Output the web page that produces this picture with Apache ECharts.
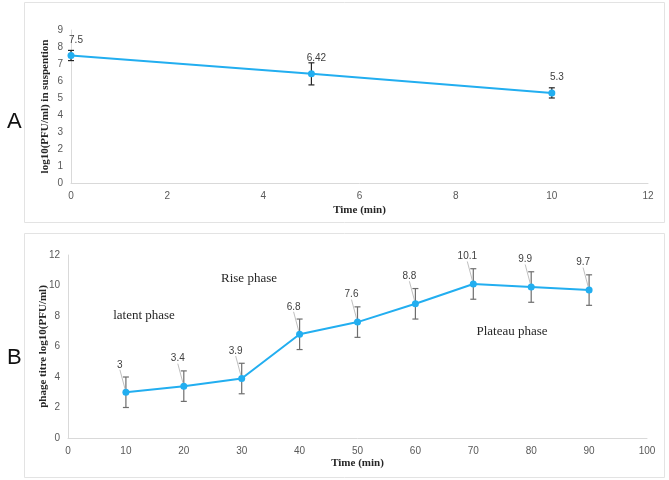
<!DOCTYPE html>
<html>
<head>
<meta charset="utf-8">
<script src="https://cdn.jsdelivr.net/npm/echarts@6/dist/echarts.min.js"></script>
<style>
html,body{margin:0;padding:0;background:#fff;}
#chart{width:669px;height:480px;}
</style>
</head>
<body>
<div id="chart"></div>
<script>
// Panel A data
var timeA = [0, 5, 10];
var titreA = [7.5, 6.42, 5.3];
var errA = [0.3, 0.65, 0.3];
var xTicksA = [0, 2, 4, 6, 8, 10, 12];
var yTicksA = [0, 1, 2, 3, 4, 5, 6, 7, 8, 9];

// Panel B data
var timeB = [10, 20, 30, 40, 50, 60, 70, 80, 90];
var titreB = [3, 3.4, 3.9, 6.8, 7.6, 8.8, 10.1, 9.9, 9.7];
var errB = [1, 1, 1, 1, 1, 1, 1, 1, 1];
var xTicksB = [0, 10, 20, 30, 40, 50, 60, 70, 80, 90, 100];
var yTicksB = [0, 2, 4, 6, 8, 10, 12];

var phaseLabels = ['latent phase', 'Rise phase', 'Plateau phase'];

var BLUE = '#22aef0';
var tickFont = {color: '#595959', fontSize: 10, fontFamily: 'Liberation Sans'};
var nameFont = {color: '#262626', fontSize: 11, fontWeight: 'bold', fontFamily: 'Liberation Serif'};
var axLine = {show: true, lineStyle: {color: '#d9d9d9', width: 1}};

function pairs(xs, ys) { return xs.map(function (x, i) { return [x, ys[i]]; }); }
function errData(xs, ys, es) { return xs.map(function (x, i) { return [x, ys[i] - es[i], ys[i] + es[i]]; }); }

function errRender(color) {
  return function (params, api) {
    var lo = api.coord([api.value(0), api.value(1)]);
    var hi = api.coord([api.value(0), api.value(2)]);
    var c = 3;
    var st = {stroke: color, lineWidth: 1.2};
    return {type: 'group', children: [
      {type: 'line', shape: {x1: lo[0], y1: lo[1], x2: hi[0], y2: hi[1]}, style: st},
      {type: 'line', shape: {x1: lo[0] - c, y1: lo[1], x2: lo[0] + c, y2: lo[1]}, style: st},
      {type: 'line', shape: {x1: hi[0] - c, y1: hi[1], x2: hi[0] + c, y2: hi[1]}, style: st}
    ]};
  };
}

var chart = echarts.init(document.getElementById('chart'), null, {renderer: 'canvas'});
chart.setOption({
  backgroundColor: '#fff',
  animation: false,
  graphic: [
    {type: 'rect', shape: {x: 24.5, y: 2.5, width: 640, height: 220}, style: {fill: 'none', stroke: '#e3e3e3', lineWidth: 1}},
    {type: 'rect', shape: {x: 24.5, y: 233.5, width: 640, height: 244}, style: {fill: 'none', stroke: '#e3e3e3', lineWidth: 1}},
    {type: 'text', x: 7, y: 111, style: {text: 'A', fontSize: 22, fontFamily: 'Liberation Sans', fill: '#111'}},
    {type: 'text', x: 7, y: 347, style: {text: 'B', fontSize: 22, fontFamily: 'Liberation Sans', fill: '#111'}},
    {type: 'text', x: 144, y: 316, style: {text: phaseLabels[0], fontSize: 13, fontFamily: 'Liberation Serif', fill: '#262626', align: 'center', verticalAlign: 'middle'}},
    {type: 'text', x: 249, y: 279, style: {text: phaseLabels[1], fontSize: 13, fontFamily: 'Liberation Serif', fill: '#262626', align: 'center', verticalAlign: 'middle'}},
    {type: 'text', x: 512, y: 332, style: {text: phaseLabels[2], fontSize: 13, fontFamily: 'Liberation Serif', fill: '#262626', align: 'center', verticalAlign: 'middle'}}
  ],
  grid: [
    {left: 71, right: 21, top: 30, height: 153},
    {left: 68, right: 22, top: 255, height: 183}
  ],
  xAxis: [
    {gridIndex: 0, type: 'value', min: xTicksA[0], max: xTicksA[xTicksA.length - 1], interval: 2,
     axisLine: axLine, axisTick: {show: false}, splitLine: {show: false}, axisLabel: Object.assign({margin: 8}, tickFont),
     name: 'Time (min)', nameLocation: 'middle', nameGap: 22, nameMoveOverlap: false, nameTextStyle: nameFont},
    {gridIndex: 1, type: 'value', min: xTicksB[0], max: xTicksB[xTicksB.length - 1], interval: 10,
     axisLine: axLine, axisTick: {show: false}, splitLine: {show: false}, axisLabel: Object.assign({margin: 8}, tickFont),
     name: 'Time (min)', nameLocation: 'middle', nameGap: 20, nameMoveOverlap: false, nameTextStyle: nameFont}
  ],
  yAxis: [
    {gridIndex: 0, type: 'value', min: yTicksA[0], max: yTicksA[yTicksA.length - 1], interval: 1,
     axisLine: axLine, axisTick: {show: false}, splitLine: {show: false}, axisLabel: Object.assign({margin: 8}, tickFont),
     name: 'log10(PFU/ml) in suspention', nameLocation: 'middle', nameGap: 20, nameMoveOverlap: false, nameTextStyle: nameFont},
    {gridIndex: 1, type: 'value', min: yTicksB[0], max: yTicksB[yTicksB.length - 1], interval: 2,
     axisLine: axLine, axisTick: {show: false}, splitLine: {show: false}, axisLabel: Object.assign({margin: 8}, tickFont),
     name: 'phage titre log10(PFU/ml)', nameLocation: 'middle', nameGap: 19, nameMoveOverlap: false, nameTextStyle: nameFont}
  ],
  series: [
    {type: 'custom', xAxisIndex: 0, yAxisIndex: 0, data: errData(timeA, titreA, errA), renderItem: errRender('#262626'), z: 1, silent: true},
    {type: 'line', xAxisIndex: 0, yAxisIndex: 0, data: pairs(timeA, titreA), z: 3,
     symbol: 'circle', symbolSize: 7, itemStyle: {color: BLUE}, lineStyle: {color: BLUE, width: 2},
     label: {show: true, position: 'top', offset: [5, -2], color: '#404040', fontSize: 10, fontFamily: 'Liberation Sans'}},
    {type: 'custom', xAxisIndex: 1, yAxisIndex: 1, data: errData(timeB, titreB, errB), renderItem: errRender('#6e6e6e'), z: 1, silent: true},
    {type: 'line', xAxisIndex: 1, yAxisIndex: 1, data: pairs(timeB, titreB), z: 3,
     symbol: 'circle', symbolSize: 7, itemStyle: {color: BLUE}, lineStyle: {color: BLUE, width: 2},
     label: {show: true, position: 'top', color: '#404040', fontSize: 10, fontFamily: 'Liberation Sans'},
     labelLayout: {dx: -6, dy: -14},
     labelLine: {show: true, lineStyle: {color: '#bfbfbf', width: 1}}}
  ]
});
</script>
</body>
</html>
